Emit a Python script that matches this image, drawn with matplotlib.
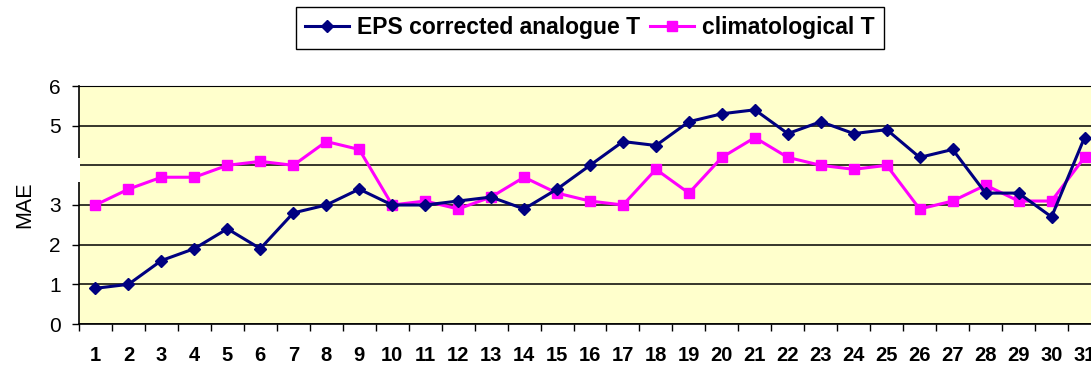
import numpy as np
import matplotlib
matplotlib.use('Agg')
import matplotlib.pyplot as plt
from matplotlib.patches import Rectangle

plt.rcParams['font.family'] = ['Liberation Sans', 'DejaVu Sans']

days = list(range(1, 32))
eps_analogue = [0.9, 1.0, 1.6, 1.9, 2.4, 1.9, 2.8, 3.0, 3.4, 3.0,
                3.0, 3.1, 3.2, 2.9, 3.4, 4.0, 4.6, 4.5, 5.1, 5.3,
                5.4, 4.8, 5.1, 4.8, 4.9, 4.2, 4.4, 3.3, 3.3, 2.7, 4.7]
climatological = [3.0, 3.4, 3.7, 3.7, 4.0, 4.1, 4.0, 4.6, 4.4, 3.0,
                  3.1, 2.9, 3.2, 3.7, 3.3, 3.1, 3.0, 3.9, 3.3, 4.2,
                  4.7, 4.2, 4.0, 3.9, 4.0, 2.9, 3.1, 3.5, 3.1, 3.1, 4.2]

fig = plt.figure(figsize=(10.91, 3.66), dpi=100)
ax = fig.add_axes([79/1091, 42/366, 1022/1091, 238/366])
ax.set_facecolor('#FFFFCC')

x = np.array(days)
l1, = ax.plot(x, eps_analogue, color='#000080', lw=2.2, marker='D', ms=6,
              label='EPS corrected analogue T', zorder=4)
l2, = ax.plot(x, climatological, color='#FF00FF', lw=2.2, marker='s', ms=6.5,
              label='climatological T', zorder=3)

ax.set_xlim(0.5, 31.5)
ax.set_ylim(0, 6)
ax.set_yticks(range(0, 7))
ax.tick_params(axis='y', labelsize=15, length=5, width=1, direction='out', pad=8)
ax.yaxis.grid(True, color='black', lw=1.1)
ax.set_axisbelow(True)

# tick marks between categories, labels centred on them
ax.set_xticks(np.arange(0.5, 32, 1))
ax.set_xticklabels([])
ax.set_xticks(x, minor=True)
ax.set_xticklabels([str(d) for d in days], minor=True, fontsize=14.5, fontweight='bold')
ax.tick_params(axis='x', which='major', length=5, width=1, direction='out')
ax.tick_params(axis='x', which='minor', length=0, pad=16)

ax.set_ylabel('MAE', fontsize=15.5, labelpad=10)

for s in ['left', 'bottom']:
    ax.spines[s].set_color('black')
    ax.spines[s].set_linewidth(1.2)
ax.spines['top'].set_color('black')
ax.spines['right'].set_visible(False)

fig.legend(handles=[l1, l2], loc='center', bbox_to_anchor=(0.5408, 0.9235), ncol=2,
           frameon=True, fancybox=False, edgecolor='black', framealpha=1,
           prop={'size': 16.5, 'weight': 'bold'}, handlelength=1.9,
           handletextpad=0.35, columnspacing=0.45, borderpad=0.42,
           borderaxespad=0)

# blank strip over the left edge near y = 4
fig.patches.append(Rectangle((0, (366 - 182) / 366), 80 / 1091, 24 / 366,
                             transform=fig.transFigure, facecolor='white',
                             edgecolor='none', zorder=10))

fig.savefig('out.png', dpi=100)
